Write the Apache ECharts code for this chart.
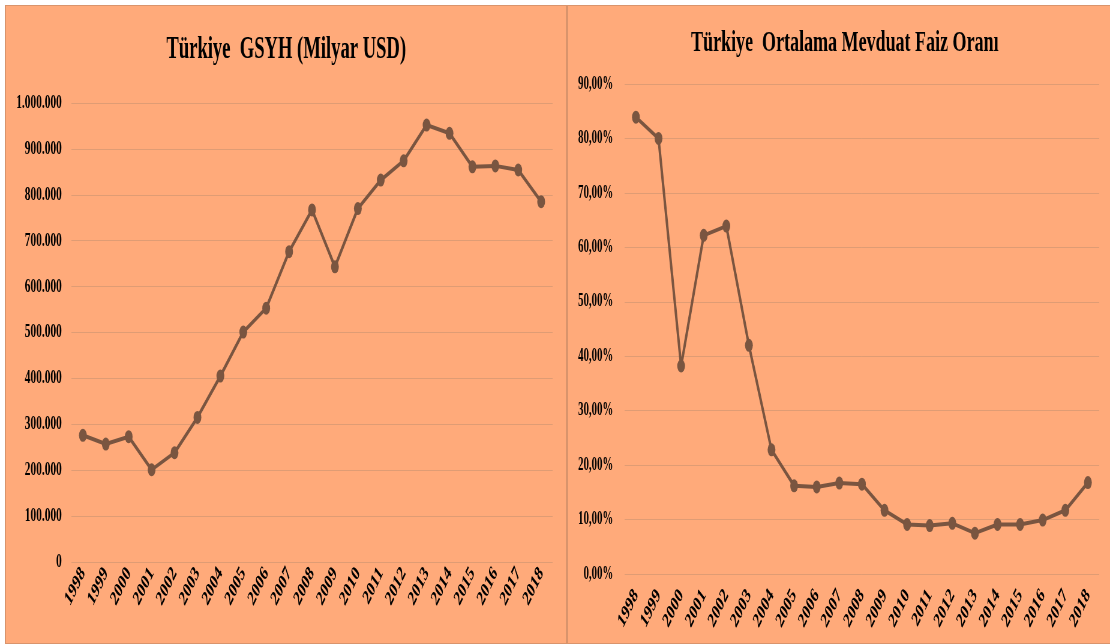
<!DOCTYPE html>
<html>
<head>
<meta charset="utf-8">
<title>Türkiye GSYH ve Mevduat Faizi</title>
<script src="https://cdn.jsdelivr.net/npm/echarts@6/dist/echarts.min.js"></script>
<style>
  html, body {
    margin: 0;
    padding: 0;
    width: 1110px;
    height: 644px;
    overflow: hidden;
    background: #fff;
  }
  .panel {
    position: absolute;
    top: 5px;
    height: 637px;
    background: #FFAA7A;
    border: 1px solid #D9946C;
  }
  #leftPanel { left: 5px; width: 560px; }
  #rightPanel { left: 567px; width: 542px; }
  /* the source picture is squeezed horizontally, so draw wide and squeeze */
  #chart {
    position: absolute;
    left: 0;
    top: 0;
    width: 1850px;
    height: 644px;
    transform: scaleX(0.6);
    transform-origin: 0 0;
  }
</style>
</head>
<body>
<div class="panel" id="leftPanel"></div>
<div class="panel" id="rightPanel"></div>
<div id="chart"></div>

<script>
const years = ['1998', '1999', '2000', '2001', '2002', '2003', '2004', '2005', '2006', '2007',
  '2008', '2009', '2010', '2011', '2012', '2013', '2014', '2015', '2016', '2017', '2018']

const gdp = [276000, 257000, 273000, 201000, 238000, 315000, 405000, 501000, 553000, 676000,
  767000, 643000, 770000, 832000, 874000, 952000, 934000, 861000, 863000, 854000, 785000]

const depositRate = [83.9, 80.0, 38.2, 62.2, 63.9, 42.0, 22.8, 16.2, 16.0, 16.7,
  16.5, 11.7, 9.1, 8.9, 9.3, 7.5, 9.1, 9.1, 9.9, 11.7, 16.8]

const leftTitle = 'Türkiye  GSYH (Milyar USD)'
const rightTitle = 'Türkiye  Ortalama Mevduat Faiz Oranı'

const lineColor = '#7A5540'
const gridColor = '#DF9C74'
const font = 'Liberation Serif'

const formatThousands = (v) => String(v).replace(/\B(?=(\d{3})+(?!\d))/g, '.')
const formatPercent = (v) => v.toFixed(2).replace('.', ',') + '%'

const chart = echarts.init(document.getElementById('chart'))

const xAxisBase = (gridIndex, margin) => ({
  gridIndex,
  type: 'category',
  data: years,
  boundaryGap: true,
  axisLine: { show: false },
  axisTick: { show: false },
  axisLabel: {
    interval: 0,
    rotate: 52,
    margin,
    fontFamily: font,
    fontWeight: 'bold',
    fontSize: 21,
    color: '#000'
  }
})

const lineSeries = (index, data) => ({
  type: 'line',
  xAxisIndex: index,
  yAxisIndex: index,
  data,
  symbol: 'circle',
  symbolSize: 13,
  lineStyle: { color: lineColor, width: 4 },
  itemStyle: { color: lineColor }
})

const option = {
  animation: false,
  graphic: [
    {
      type: 'text',
      x: 477,
      y: 50,
      style: {
        text: leftTitle,
        font: 'bold 31px "Liberation Serif"',
        fill: '#000',
        textAlign: 'center',
        textVerticalAlign: 'middle'
      }
    },
    {
      type: 'text',
      x: 1408,
      y: 43,
      style: {
        text: rightTitle,
        font: 'bold 30px "Liberation Serif"',
        fill: '#000',
        textAlign: 'center',
        textVerticalAlign: 'middle'
      }
    }
  ],
  grid: [
    { left: 119, top: 103, width: 802, height: 459 },
    { left: 1041, top: 84, width: 791, height: 490 }
  ],
  xAxis: [xAxisBase(0, 8), xAxisBase(1, 18)],
  yAxis: [
    {
      gridIndex: 0,
      type: 'value',
      min: 0,
      max: 1000000,
      interval: 100000,
      axisLine: { show: false },
      axisTick: { show: false },
      splitLine: { lineStyle: { color: gridColor, width: 1 } },
      axisLabel: {
        margin: 16,
        formatter: formatThousands,
        fontFamily: font,
        fontWeight: 'bold',
        fontSize: 19,
        color: '#000'
      }
    },
    {
      gridIndex: 1,
      type: 'value',
      min: 0,
      max: 90,
      interval: 10,
      axisLine: { show: false },
      axisTick: { show: false },
      splitLine: { lineStyle: { color: gridColor, width: 1 } },
      axisLabel: {
        margin: 19,
        formatter: formatPercent,
        fontFamily: font,
        fontWeight: 'bold',
        fontSize: 18,
        color: '#000'
      }
    }
  ],
  series: [lineSeries(0, gdp), lineSeries(1, depositRate)]
}

chart.setOption(option)
</script>
</body>
</html>
